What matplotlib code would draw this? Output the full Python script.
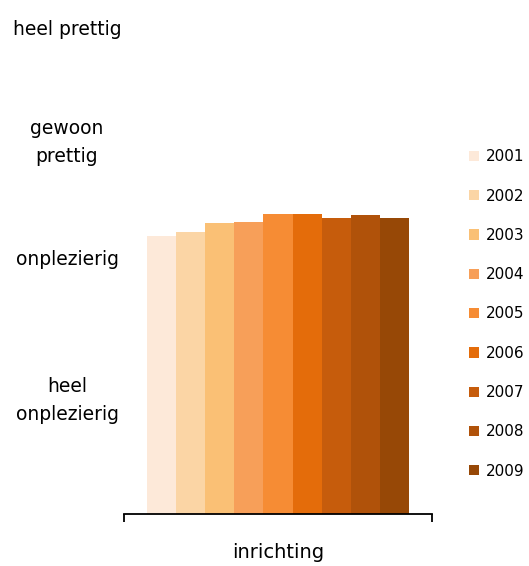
import numpy as np
import matplotlib.pyplot as plt

years = ['2001', '2002', '2003', '2004', '2005', '2006', '2007', '2008', '2009']
scores = [2.19, 2.23, 2.30, 2.31, 2.38, 2.38, 2.35, 2.37, 2.35]
colors = ['#FDE9D9', '#FBD5A5', '#FAC075', '#F79F59', '#F68C34',
          '#E46C0A', '#C65C0C', '#B0520A', '#974806']
category = 'inrichting'
level_labels = ['heel\nonplezierig', 'onplezierig', 'gewoon\nprettig', 'heel prettig']
level_pos = [0.82, 2, 3.06, 4]

fig = plt.figure(figsize=(5.29, 5.66), dpi=100)
ax = fig.add_axes([0.2344, 0.0919, 0.5822, 0.8587])

ymin, ymax = -0.226, 4.0
group_w = 0.85
bar_w = group_w / len(years)
x = -group_w / 2 + bar_w * (np.arange(len(years)) + 0.5)

for xi, s, c, y in zip(x, scores, colors, years):
    ax.bar(xi, s - ymin, bottom=ymin, width=bar_w, color=c, label=y, linewidth=0)

ax.set_xlim(-0.5, 0.5)
ax.set_ylim(ymin, ymax)

for side in ['left', 'right', 'top']:
    ax.spines[side].set_visible(False)
ax.spines['bottom'].set_linewidth(1.3)

ax.set_xticks([-0.5, 0.5])
ax.set_xticklabels(['', ''])
ax.tick_params(axis='x', direction='out', length=5.5, width=1.3)
ax.set_xlabel(category, fontsize=14, labelpad=12)

ax.set_yticks(level_pos)
ax.set_yticklabels(level_labels, fontsize=13.5, ha='center', multialignment='center')
for lbl in ax.get_yticklabels():
    lbl.set_linespacing(1.6)
ax.tick_params(axis='y', length=0, pad=41)

fig.legend(loc='center left', bbox_to_anchor=(469 / 529, 1 - 314 / 566),
           frameon=False, fontsize=11, handlelength=0.65, handleheight=0.65,
           handletextpad=0.45, labelspacing=1.59, borderpad=0, borderaxespad=0)

fig.savefig('out.png', dpi=100)
